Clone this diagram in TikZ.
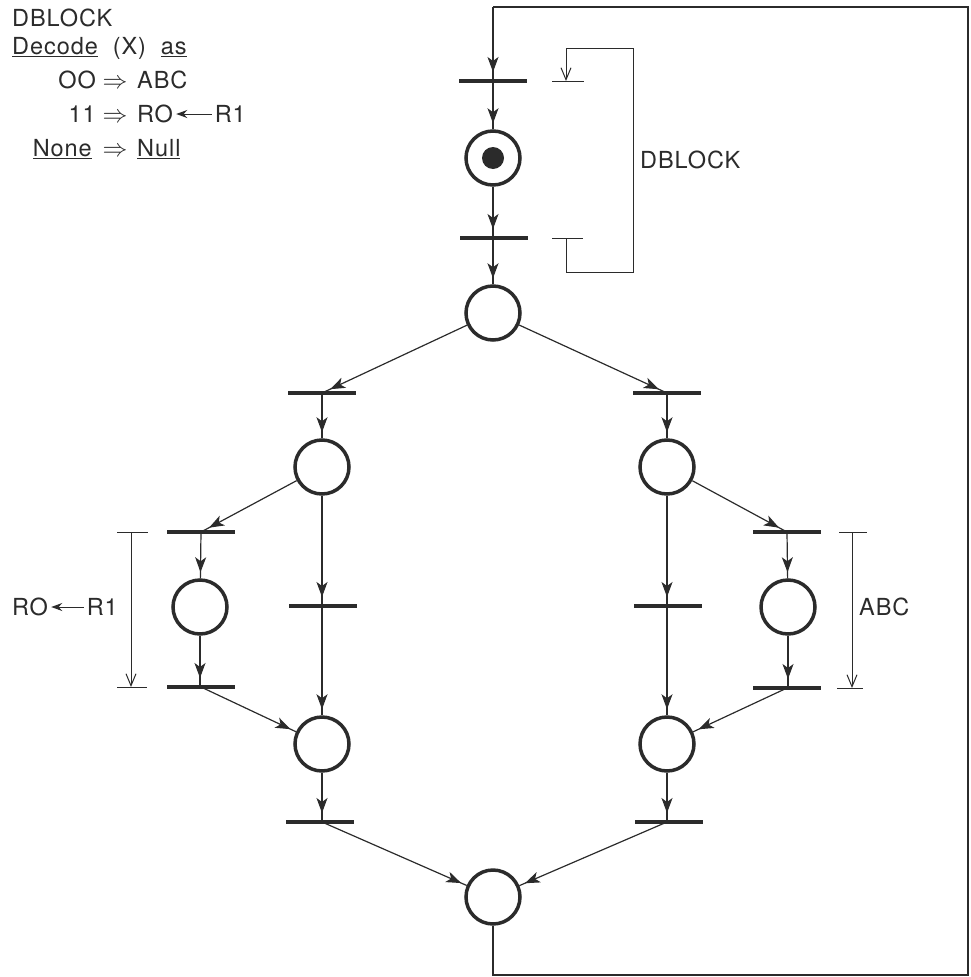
\documentclass[tikz,border=0pt]{standalone}
\usepackage{fontspec}
\setmainfont{TeX Gyre Heros}[LetterSpace=4]
\usetikzlibrary{arrows.meta,decorations.markings}
\definecolor{ink}{HTML}{2B2B2B}
\tikzset{
  flowtip/.tip={Stealth[length=15pt,width=11pt,inset=4pt]},
  barbtip/.tip={Straight Barb[length=12pt,width=10pt]},
  place/.style={circle, draw=ink, line width=3.5pt, minimum size=54pt, inner sep=0pt},
  trans/.style={rectangle, fill=ink, minimum width=68pt, minimum height=4.5pt, inner sep=0pt},
  wire/.style={draw=ink, color=ink, line width=1.2pt},
  thinwire/.style={draw=ink, color=ink, line width=1pt},
  toplace/.style={wire, postaction={decorate},
    decoration={markings, mark=at position -6pt with {\arrow{flowtip}}}},
  totrans/.style={wire, postaction={decorate},
    decoration={markings, mark=at position -9pt with {\arrow{flowtip}}}},
  txt/.style={font=\fontsize{23.5}{28}\selectfont, inner sep=0pt, text=ink}
}
\begin{document}
\begin{tikzpicture}[x=1pt,y=-1pt]
\useasboundingbox (0,0) rectangle (970,977);

% ---- legend text
\node[txt, anchor=base west] (h1) at (12,26) {DBLOCK};
\node[txt, anchor=base west] (h2) at (12,54) {\underline{Decode}\ \ (X)\ \ \underline{as}};
\node[txt, anchor=base east] (h3a) at (96,88) {OO};
\node[txt, anchor=base] (h3b) at (115,88) {$\Rightarrow$};
\node[txt, anchor=base west] (h3c) at (137,88) {ABC};
\node[txt, anchor=base east] (h4a) at (96,122) {11};
\node[txt, anchor=base] (h4b) at (115,122) {$\Rightarrow$};
\node[txt, anchor=base west] (h4c) at (137,122) {RO};
\node[txt, anchor=base east] (h4d) at (246,122) {R1};
\draw[thinwire, -{Stealth[length=11pt,width=8pt]}] ([xshift=-3pt,yshift=8pt]h4d.base west) -- ([xshift=3pt,yshift=8pt]h4c.base east);
\node[txt, anchor=base east] (h5a) at (92,156) {\underline{None}};
\node[txt, anchor=base] (h5b) at (115,156) {$\Rightarrow$};
\node[txt, anchor=base west] (h5c) at (137,156) {\underline{Null}};

% ---- places
\node[place] (p1) at (493,158) {};
\fill[ink] (p1.center) circle (11pt);
\node[place] (p2) at (493,313) {};
\node[place] (pl) at (322,467) {};
\node[place] (pr) at (667,467) {};
\node[place] (pla) at (200,607) {};
\node[place] (pra) at (788,607) {};
\node[place] (pml) at (322,744) {};
\node[place] (pmr) at (667,744) {};
\node[place] (pb) at (493,897) {};

% ---- transitions
\node[trans] (t1) at (493,81) {};
\node[trans] (t2) at (494,238) {};
\node[trans] (tl) at (322,393) {};
\node[trans] (tr) at (667,393) {};
\node[trans] (tla) at (201,532) {};
\node[trans] (tra) at (787,532) {};
\node[trans] (tlm) at (323,606) {};
\node[trans] (trm) at (668,606) {};
\node[trans] (tlb) at (201,687) {};
\node[trans] (trb) at (787,688) {};
\node[trans] (tml) at (320,822) {};
\node[trans] (tmr) at (669,822) {};

% ---- outer loop corners
\coordinate (lt) at (493,7);
\coordinate (rt) at (968,7);
\coordinate (rb) at (968,975);
\coordinate (lb) at (493,975);

% ---- arcs
\draw[totrans] (lt) -- (t1.center);
\draw[toplace] (t1.center) -- (p1);
\draw[totrans] (p1) -- (t2.center -| p1);
\draw[toplace] (t2.center -| p2) -- (p2);
\draw[totrans] (p2) -- (tl.center);
\draw[totrans] (p2) -- (tr.center);
\draw[toplace] (tl.center) -- (pl);
\draw[toplace] (tr.center) -- (pr);
\draw[totrans] (pl) -- (tla.center);
\draw[totrans] (pl) -- (tlm.center -| pl);
\draw[totrans] (pr) -- (trm.center -| pr);
\draw[totrans] (pr) -- (tra.center);
\draw[toplace] (tla.center) -- (pla);
\draw[totrans] (pla) -- (tlb.center -| pla);
\draw[toplace] (tra.center) -- (pra);
\draw[totrans] (pra) -- (trb.center -| pra);
\draw[toplace] (tlm.center -| pml) -- (pml);
\draw[toplace] (trm.center -| pmr) -- (pmr);
\draw[toplace] (tlb.center) -- (pml);
\draw[toplace] (trb.center) -- (pmr);
\draw[totrans] (pml) -- (tml.center -| pml);
\draw[totrans] (pmr) -- (tmr.center -| pmr);
\draw[toplace] (tml.center -| pml) -- (pb);
\draw[toplace] (tmr.center -| pmr) -- (pb);
\draw[wire] (pb) -- (lb) -- (rb) -- (rt) -- (lt);

% ---- DBLOCK bracket
\coordinate (ba) at (552,81);
\coordinate (bb) at (584,81);
\coordinate (bc) at (552,238);
\coordinate (bd) at (583,238);
\coordinate (b1) at (566,238);
\coordinate (b2) at (566,272);
\coordinate (b3) at (633,272);
\coordinate (b4) at (633,48);
\coordinate (b5) at (566,48);
\coordinate (b6) at (566,81);
\draw[thinwire] (ba) -- (bb);
\draw[thinwire] (bc) -- (bd);
\draw[thinwire, -{barbtip}] (b1) -- (b2) -- (b3) -- (b4) -- (b5) -- (b6);
\node[txt, anchor=base west] (dbl) at (640,168) {DBLOCK};

% ---- left dimension (RO <- R1)
\coordinate (la1) at (117,532);
\coordinate (la2) at (148,532);
\coordinate (lb1) at (117,687);
\coordinate (lb2) at (147,687);
\coordinate (lm1) at (131,532);
\coordinate (lm2) at (131,687);
\draw[thinwire] (la1) -- (la2);
\draw[thinwire] (lb1) -- (lb2);
\draw[thinwire, -{barbtip}] (lm1) -- (lm2);
\node[txt, anchor=base west] (lro) at (12,615) {RO};
\node[txt, anchor=base east] (lr1) at (118,615) {R1};
\draw[thinwire, -{Stealth[length=11pt,width=8pt]}] ([xshift=-3pt,yshift=8pt]lr1.base west) -- ([xshift=3pt,yshift=8pt]lro.base east);

% ---- right dimension (ABC)
\coordinate (ra1) at (839,532);
\coordinate (ra2) at (867,532);
\coordinate (rb1) at (837,688);
\coordinate (rb2) at (863,688);
\coordinate (rm1) at (852,532);
\coordinate (rm2) at (852,688);
\draw[thinwire] (ra1) -- (ra2);
\draw[thinwire] (rb1) -- (rb2);
\draw[thinwire, -{barbtip}] (rm1) -- (rm2);
\node[txt, anchor=base west] (abc) at (859,615) {ABC};
\end{tikzpicture}
\end{document}
